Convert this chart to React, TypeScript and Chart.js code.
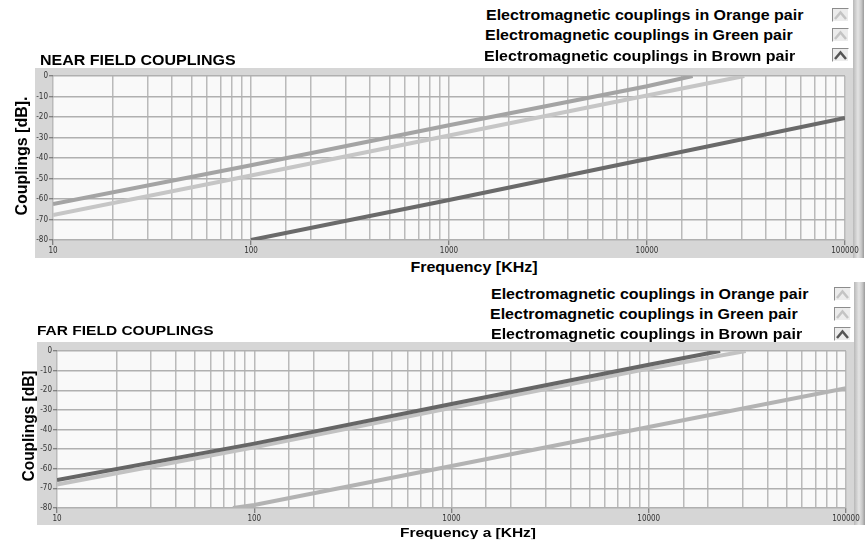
import React, { useEffect, useRef } from "react";
import { Chart, registerables } from "chart.js";
Chart.register(...registerables);

// ---------- data ----------
const xTickLabels = ["10", "100", "1000", "10000", "100000"];
const yTickStep = 10;
const yMin = -80;
const yMax = 0;
const xMin = 10;
const xMax = 100000;

const legendNames = [
  "Electromagnetic couplings in Orange pair",
  "Electromagnetic couplings in Green pair",
  "Electromagnetic couplings in Brown pair",
];

// Near field
const nearOrangeFreq = [10, 100, 1000, 10000, 17000];
const nearOrangeDb = [-62.4, -43.5, -24, -5, 0];
const nearGreenFreq = [10, 100, 1000, 10000, 31000];
const nearGreenDb = [-67.8, -48.5, -29, -9.5, 0];
const nearBrownFreq = [100, 1000, 10000, 100000];
const nearBrownDb = [-80, -60.5, -40.5, -20.5];

// Far field
const farOrangeFreq = [78, 100, 1000, 10000, 100000];
const farOrangeDb = [-80, -78.5, -58.6, -38.7, -18.9];
const farGreenFreq = [10, 100, 1000, 10000, 31000];
const farGreenDb = [-68, -49, -29, -9, 0];
const farBrownFreq = [10, 100, 1000, 10000, 23000];
const farBrownDb = [-65.7, -47.2, -27, -7, 0];

// ---------- helpers ----------
const toPoints = (f: number[], d: number[]) => f.map((v, i) => ({ x: v, y: d[i] }));

const TICK_FONT = {
  family: '"Liberation Sans Narrow", "DejaVu Sans Condensed", "Liberation Sans", Arial, sans-serif',
  size: 8,
};

type Frame = { left: number; top: number; right: number; bottom: number };

function panelPlugin(frame: Frame) {
  return {
    id: "panelBg",
    beforeDraw(chart: any) {
      const { ctx, chartArea } = chart;
      ctx.save();
      ctx.fillStyle = "#d6d6d6";
      ctx.fillRect(frame.left, frame.top, frame.right - frame.left, frame.bottom - frame.top);
      ctx.fillStyle = "#f9f9f9";
      ctx.fillRect(chartArea.left, chartArea.top, chartArea.right - chartArea.left, chartArea.bottom - chartArea.top);
      ctx.restore();
    },
  };
}

type DS = { freq: number[]; db: number[]; color: string; order: number; label: string };

type PlotProps = {
  top: number;
  height: number;
  yWidth: number;
  xHeight: number;
  padTop: number;
  padRight: number;
  frame: Frame;
  series: DS[];
};

function Plot({ top, height, yWidth, xHeight, padTop, padRight, frame, series }: PlotProps) {
  const ref = useRef<HTMLCanvasElement | null>(null);
  useEffect(() => {
    if (!ref.current) return;
    const isMajor = (v: number) => xTickLabels.includes(String(Math.round(v)));
    const chart = new Chart(ref.current, {
      type: "line",
      data: {
        datasets: series.map((s) => ({
          label: s.label,
          data: toPoints(s.freq, s.db),
          borderColor: s.color,
          backgroundColor: s.color,
          borderWidth: 4,
          pointRadius: 0,
          tension: 0,
          order: s.order,
          clip: 0,
        })),
      },
      options: {
        animation: false,
        responsive: false,
        parsing: true,
        layout: { padding: { left: 0, top: padTop, right: padRight, bottom: 0 } },
        plugins: { legend: { display: false }, tooltip: { enabled: false }, title: { display: false } },
        scales: {
          x: {
            type: "logarithmic",
            min: xMin,
            max: xMax,
            border: { display: false },
            grid: {
              color: "#bababa",
              lineWidth: 1.5,
              tickLength: 5,
              tickWidth: 1,
              tickColor: (ctx: any) => (ctx.tick && isMajor(ctx.tick.value) ? "#666" : "rgba(0,0,0,0)"),
            },
            ticks: {
              autoSkip: false,
              maxRotation: 0,
              minRotation: 0,
              padding: 1,
              color: "#333",
              font: TICK_FONT,
              callback: (v: any) => (isMajor(Number(v)) ? String(Math.round(Number(v))) : ""),
            },
            afterFit: (s: any) => {
              s.height = xHeight;
              s.paddingLeft = 0;
              s.paddingRight = 0;
            },
          },
          y: {
            type: "linear",
            min: yMin,
            max: yMax,
            border: { display: false },
            grid: { color: "#b0b0b0", lineWidth: 1.5, tickLength: 4, tickWidth: 1, tickColor: "#666" },
            ticks: { stepSize: yTickStep, padding: 1, color: "#333", font: TICK_FONT },
            afterFit: (s: any) => {
              s.width = yWidth;
            },
          },
        },
      },
      plugins: [panelPlugin(frame)],
    } as any);
    return () => chart.destroy();
  }, []);
  return (
    <canvas
      ref={ref}
      width={866}
      height={height}
      style={{ position: "absolute", left: 0, top, width: 866, height, display: "block" }}
    />
  );
}

const TEXT_FONT = '"Liberation Sans", Arial, Helvetica, sans-serif';

function Text({
  x,
  y,
  size,
  children,
  anchor = "left",
  rotate = false,
  sy = 0.86,
}: {
  x: number;
  y: number;
  size: number;
  children: React.ReactNode;
  anchor?: "left" | "center";
  rotate?: boolean;
  sy?: number;
}) {
  const tx = anchor === "center" ? "-50%" : "0";
  const transform = rotate
    ? `translate(-50%, -50%) rotate(-90deg) scaleY(1.05)`
    : `translate(${tx}, -50%) scaleY(${sy})`;
  return (
    <div
      style={{
        position: "absolute",
        left: x,
        top: y,
        fontFamily: TEXT_FONT,
        fontWeight: "bold",
        fontSize: size,
        lineHeight: 1,
        whiteSpace: "nowrap",
        color: "#000",
        transform,
        transformOrigin: rotate ? "center" : anchor === "center" ? "center" : "left center",
      }}
    >
      {children}
    </div>
  );
}

function Icon({ x, y, dark }: { x: number; y: number; dark: boolean }) {
  return (
    <div
      style={{
        position: "absolute",
        left: x,
        top: y,
        width: 17,
        height: 14,
        background: "#ececec",
        borderTop: "1px solid #8c8c8c",
        borderLeft: "1px solid #8c8c8c",
        borderRight: "1px solid #ffffff",
        borderBottom: "1px solid #ffffff",
        boxSizing: "border-box",
      }}
    >
      <svg width={15} height={12} style={{ display: "block" }}>
        <polyline
          points="2,10 7.5,3.5 13,10"
          fill="none"
          stroke={dark ? "#555" : "#c4c4c4"}
          strokeWidth={2.5}
        />
      </svg>
    </div>
  );
}

function SideBar({ top, height, left }: { top: number; height: number; left: number }) {
  return (
    <div
      style={{
        position: "absolute",
        left,
        top,
        width: 11,
        height,
        background: "linear-gradient(to right, #b8b8b8, #e4e4e4 45%, #c8c8c8 75%, #9a9a9a)",
      }}
    />
  );
}

export default function App() {
  const nearSeries: DS[] = [
    { label: legendNames[0], freq: nearOrangeFreq, db: nearOrangeDb, color: "#a4a4a4", order: 2 },
    { label: legendNames[1], freq: nearGreenFreq, db: nearGreenDb, color: "#c6c6c6", order: 1 },
    { label: legendNames[2], freq: nearBrownFreq, db: nearBrownDb, color: "#6a6a6a", order: 0 },
  ];
  const farSeries: DS[] = [
    { label: legendNames[0], freq: farOrangeFreq, db: farOrangeDb, color: "#b3b3b3", order: 2 },
    { label: legendNames[1], freq: farGreenFreq, db: farGreenDb, color: "#c2c2c2", order: 1 },
    { label: legendNames[2], freq: farBrownFreq, db: farBrownDb, color: "#666666", order: 0 },
  ];

  return (
    <div
      style={{
        position: "absolute",
        left: 0,
        top: 0,
        width: 866,
        height: 542,
        background: "#fff",
        overflow: "hidden",
      }}
    >
      <SideBar left={853} top={0} height={258} />
      <SideBar left={854} top={282} height={243} />

      {/* Near field chart */}
      <Plot
        top={60}
        height={200}
        yWidth={53}
        xHeight={20}
        padTop={16}
        padRight={21}
        frame={{ left: 35, top: 8, right: 853, bottom: 198 }}
        series={nearSeries}
      />
      {/* Far field chart */}
      <Plot
        top={335}
        height={200}
        yWidth={57}
        xHeight={27}
        padTop={16}
        padRight={20}
        frame={{ left: 37, top: 7, right: 854, bottom: 190 }}
        series={farSeries}
      />

      {/* top legend */}
      <Text x={486} y={16} size={16}>{legendNames[0]}</Text>
      <Text x={485} y={36} size={16}>{legendNames[1]}</Text>
      <Text x={484} y={56.5} size={16}>{legendNames[2]}</Text>
      <Icon x={832} y={8} dark={false} />
      <Icon x={832} y={28} dark={false} />
      <Icon x={832} y={48} dark={true} />

      <Text x={40} y={61} size={16}>NEAR FIELD COUPLINGS</Text>
      <Text x={22} y={156} size={16} rotate>Couplings [dB].</Text>
      <Text x={474} y={268} size={16} anchor="center">Frequency [KHz]</Text>

      {/* bottom legend */}
      <Text x={491} y={295} size={16}>{legendNames[0]}</Text>
      <Text x={490} y={315} size={16}>{legendNames[1]}</Text>
      <Text x={491} y={335} size={16}>{legendNames[2]}</Text>
      <Icon x={834} y={287} dark={false} />
      <Icon x={834} y={307} dark={false} />
      <Icon x={834} y={327} dark={true} />

      <Text x={37} y={330} size={15.5}>FAR FIELD COUPLINGS</Text>
      <Text x={28} y={426} size={15.5} rotate>Couplings [dB]</Text>
      <Text x={468} y={532} size={15.5} anchor="center">Frequency a [KHz]</Text>
    </div>
  );
}
